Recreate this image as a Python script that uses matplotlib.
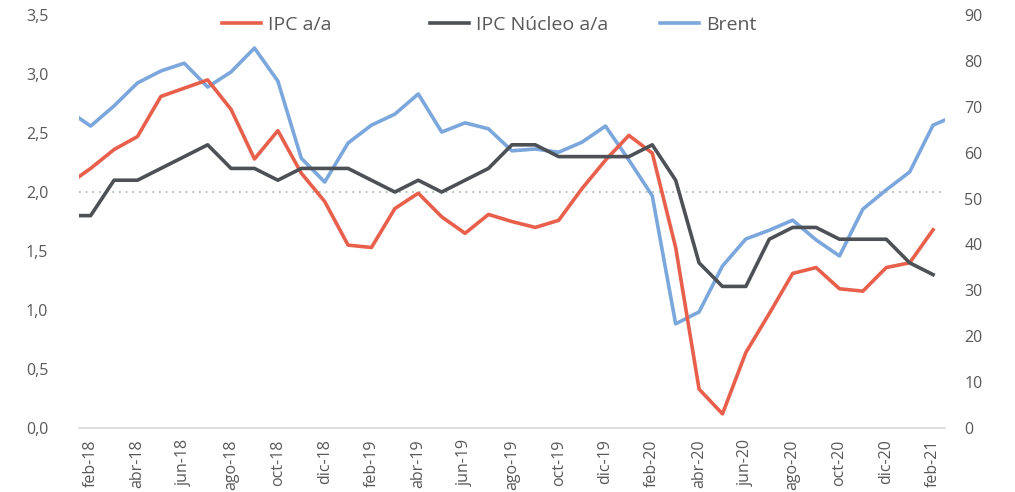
import matplotlib
matplotlib.use("Agg")
import matplotlib.pyplot as plt
from matplotlib.ticker import FuncFormatter

# months: ene-18 (clipped) .. mar-21 (clipped), labels every 2 months from feb-18
months = ['ene-18', 'feb-18', 'mar-18', 'abr-18', 'may-18', 'jun-18', 'jul-18', 'ago-18',
          'sep-18', 'oct-18', 'nov-18', 'dic-18', 'ene-19', 'feb-19', 'mar-19', 'abr-19',
          'may-19', 'jun-19', 'jul-19', 'ago-19', 'sep-19', 'oct-19', 'nov-19', 'dic-19',
          'ene-20', 'feb-20', 'mar-20', 'abr-20', 'may-20', 'jun-20', 'jul-20', 'ago-20',
          'sep-20', 'oct-20', 'nov-20', 'dic-20', 'ene-21', 'feb-21']

ipc = [2.06, 2.20, 2.36, 2.47, 2.81, 2.88, 2.95, 2.70, 2.28, 2.52, 2.16, 1.92, 1.55,
       1.53, 1.86, 1.99, 1.79, 1.65, 1.81, 1.75, 1.70, 1.76, 2.03, 2.27, 2.48, 2.33,
       1.53, 0.33, 0.12, 0.64, 0.97, 1.31, 1.36, 1.18, 1.16, 1.36, 1.40, 1.68]

nucleo = [1.8, 1.8, 2.1, 2.1, 2.2, 2.3, 2.4, 2.2, 2.2, 2.1, 2.2, 2.2, 2.2, 2.1, 2.0,
          2.1, 2.0, 2.1, 2.2, 2.4, 2.4, 2.3, 2.3, 2.3, 2.3, 2.4, 2.1, 1.4, 1.2, 1.2,
          1.6, 1.7, 1.7, 1.6, 1.6, 1.6, 1.4, 1.3]

brent = [69.3, 65.8, 70.2, 75.2, 77.8, 79.5, 74.3, 77.6, 82.8, 75.6, 58.8, 53.6, 62.1,
         66.0, 68.4, 72.8, 64.5, 66.5, 65.2, 60.4, 60.8, 60.1, 62.3, 65.8, 58.4, 50.6,
         22.7, 25.3, 35.3, 41.2, 43.1, 45.3, 41.0, 37.5, 47.7, 51.9, 55.8, 66.0, 68.2]

x = list(range(-1, len(ipc) - 1))
xb = list(range(-1, len(brent) - 1))

red = '#E8604C'
dark = '#4D5156'
blue = '#7BA7DC'
txt = '#595959'

plt.rcParams['font.family'] = ['Open Sans', 'DejaVu Sans']

fig = plt.figure(figsize=(10.15, 4.92), dpi=100)
ax = fig.add_axes([0.0778, 0.130, 0.853, 0.8395])
ax2 = ax.twinx()

ax.axhline(2.0, color='#9DB3A8', lw=1.2, ls=(0, (1, 3)), zorder=1)
l1, = ax.plot(x, ipc, color=red, lw=2.6, label='IPC a/a', zorder=3)
l2, = ax.plot(x, nucleo, color=dark, lw=2.6, label='IPC Núcleo a/a', zorder=3)
l3, = ax2.plot(xb, brent, color=blue, lw=2.6, label='Brent', zorder=2)

ax.set_xlim(-0.5, 36.5)
ax.set_ylim(0, 3.5)
ax2.set_ylim(0, 90)
ax.set_yticks([i * 0.5 for i in range(8)])
ax2.set_yticks(range(0, 91, 10))
ax.yaxis.set_major_formatter(FuncFormatter(lambda v, p: f'{v:.1f}'.replace('.', ',')))

ticks = list(range(0, 37, 2))
ax.set_xticks(ticks)
ax.set_xticklabels([months[t + 1] for t in ticks], rotation=90)

for a in (ax, ax2):
    for s in a.spines.values():
        s.set_visible(False)
    a.tick_params(length=0, colors=txt, labelsize=11.5)
ax.spines['bottom'].set_visible(True)
ax.spines['bottom'].set_color('#D9D9D9')
ax.spines['bottom'].set_linewidth(1.2)
ax.tick_params(axis='y', pad=22)
ax2.tick_params(axis='y', pad=14)
ax.tick_params(axis='x', pad=8)

ax.set_zorder(ax2.get_zorder() + 1)
ax.patch.set_visible(False)

# one legend per entry, placed like the original's spread-out legend
for line, left in ((l1, 222), (l2, 430), (l3, 660)):
    fig.legend(handles=[line], loc='center left', bbox_to_anchor=(left / 1015, 0.950),
               frameon=False, fontsize=14, labelcolor=txt, handlelength=2.0,
               handletextpad=0.35, borderpad=0, borderaxespad=0)

fig.savefig('out.png', dpi=100)
